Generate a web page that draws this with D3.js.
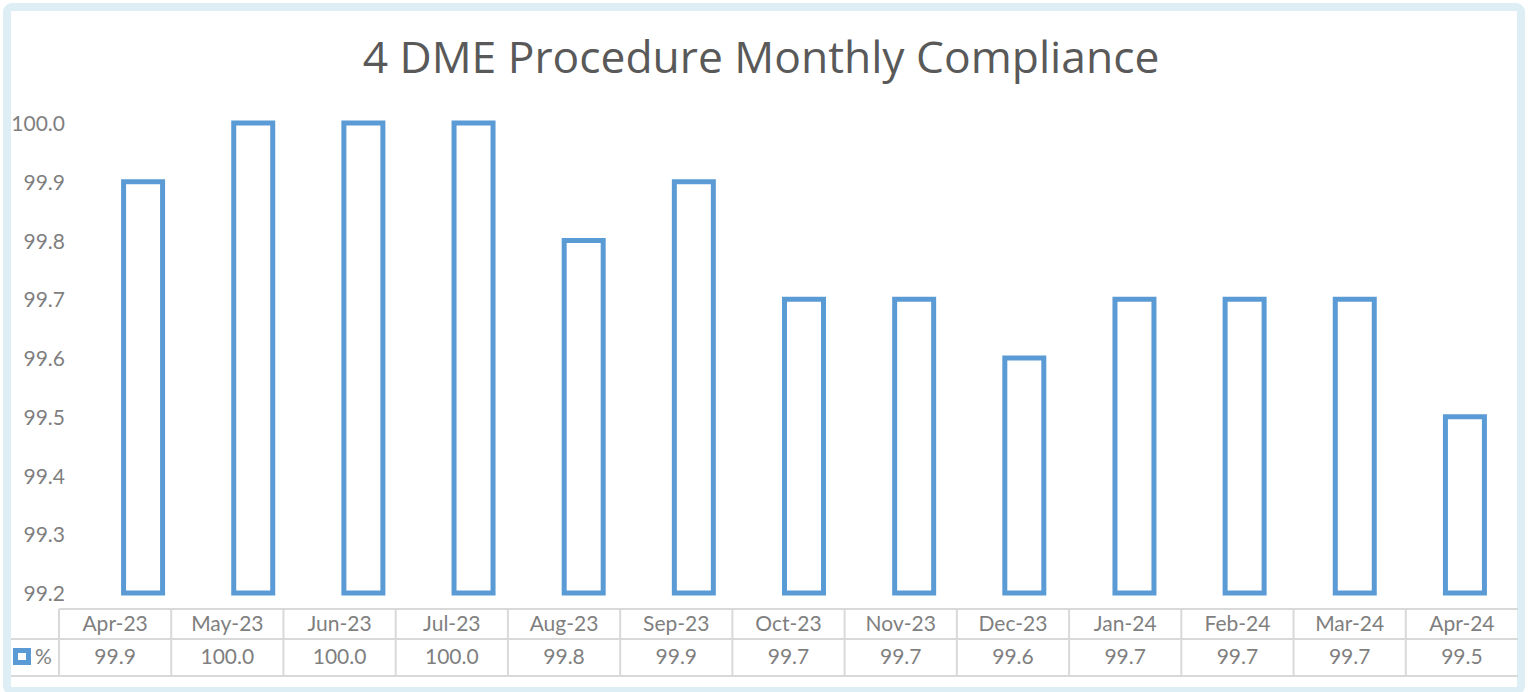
<!DOCTYPE html>
<html>
<head>
<meta charset="utf-8">
<script src="https://cdn.jsdelivr.net/npm/d3@7"></script>
<style>
  body { margin: 0; background: #fff; }
  svg text { font-family: Lato, "Open Sans", sans-serif; fill: #7f7f7f; }
</style>
</head>
<body>
<div id="chart"></div>
<script>
var months = ["Apr-23", "May-23", "Jun-23", "Jul-23", "Aug-23", "Sep-23", "Oct-23",
              "Nov-23", "Dec-23", "Jan-24", "Feb-24", "Mar-24", "Apr-24"];
var compliance = [99.9, 100.0, 100.0, 100.0, 99.8, 99.9, 99.7, 99.7, 99.6, 99.7, 99.7, 99.7, 99.5];
var yTicks = [99.2, 99.3, 99.4, 99.5, 99.6, 99.7, 99.8, 99.9, 100.0];
var seriesName = "%";
var title = "4 DME Procedure Monthly Compliance";

var width = 1529, height = 692;
var barColor = "#5b9bd5", lineColor = "#d9d9d9";

var svg = d3.select("#chart").append("svg")
    .attr("width", width).attr("height", height);

// outer frame
svg.append("rect")
    .attr("x", 7).attr("y", 7)
    .attr("width", 1514).attr("height", 684)
    .attr("rx", 5)
    .attr("fill", "#fff")
    .attr("stroke", "#ddeef5")
    .attr("stroke-width", 8);

// title, fitted to the width seen in the picture
var t = svg.append("text")
    .attr("x", 761).attr("y", 73)
    .attr("text-anchor", "middle")
    .style("font-family", "'Open Sans', sans-serif")
    .style("fill", "#595959")
    .style("font-size", "40px")
    .text(title);
var tl = t.node().getComputedTextLength();
t.style("font-size", (40 * 797 / tl) + "px");

var yScale = d3.scaleLinear()
    .domain([99.2, 100.0])
    .range([593, 123]);

var xBars = d3.scaleBand()
    .domain(months)
    .range([88, 1520])
    .paddingInner(0.646)
    .paddingOuter(0.323);

var xTable = d3.scaleBand()
    .domain(months)
    .range([59, 1518]);

// y axis labels only
var yAxis = d3.axisLeft(yScale)
    .tickValues(yTicks)
    .tickFormat(d3.format(".1f"))
    .tickSize(0)
    .tickPadding(0);
var gy = svg.append("g")
    .attr("transform", "translate(65,0)")
    .call(yAxis);
gy.select(".domain").remove();
gy.selectAll("text")
    .attr("dy", "0.36em")
    .style("font-family", "Lato, sans-serif")
    .style("font-size", "21px")
    .style("fill", "#7f7f7f");

// bars
svg.selectAll("rect.bar")
    .data(compliance)
    .enter().append("rect")
    .attr("class", "bar")
    .attr("x", function (d, i) { return xBars(months[i]); })
    .attr("y", function (d) { return yScale(d); })
    .attr("width", xBars.bandwidth())
    .attr("height", function (d) { return yScale(99.2) - yScale(d); })
    .attr("fill", "#fff")
    .attr("stroke", barColor)
    .attr("stroke-width", 5);

// data table
var tableTop = 609, rowMid = 639, tableBottom = 676;
var tg = svg.append("g").attr("stroke", lineColor).attr("stroke-width", 2);
tg.append("line").attr("x1", 59).attr("x2", 1518).attr("y1", tableTop).attr("y2", tableTop);
tg.append("line").attr("x1", 11).attr("x2", 1518).attr("y1", rowMid).attr("y2", rowMid);
tg.append("line").attr("x1", 11).attr("x2", 1518).attr("y1", tableBottom).attr("y2", tableBottom);
tg.selectAll("line.v")
    .data(months)
    .enter().append("line")
    .attr("class", "v")
    .attr("x1", function (d) { return xTable(d); })
    .attr("x2", function (d) { return xTable(d); })
    .attr("y1", tableTop).attr("y2", tableBottom);

svg.selectAll("text.month")
    .data(months)
    .enter().append("text")
    .attr("class", "month")
    .attr("x", function (d) { return xTable(d) + xTable.bandwidth() / 2; })
    .attr("y", 631)
    .attr("text-anchor", "middle")
    .style("font-size", "21px")
    .text(function (d) { return d; });

svg.selectAll("text.val")
    .data(compliance)
    .enter().append("text")
    .attr("class", "val")
    .attr("x", function (d, i) { return xTable(months[i]) + xTable.bandwidth() / 2; })
    .attr("y", 664)
    .attr("text-anchor", "middle")
    .style("font-size", "21px")
    .text(function (d) { return d3.format(".1f")(d); });

// legend key in the table
svg.append("rect")
    .attr("x", 15.5).attr("y", 650.5)
    .attr("width", 13).attr("height", 12)
    .attr("fill", "#fff")
    .attr("stroke", barColor)
    .attr("stroke-width", 5);
svg.append("text")
    .attr("x", 35).attr("y", 664)
    .style("font-size", "21px")
    .text(seriesName);
</script>
</body>
</html>
